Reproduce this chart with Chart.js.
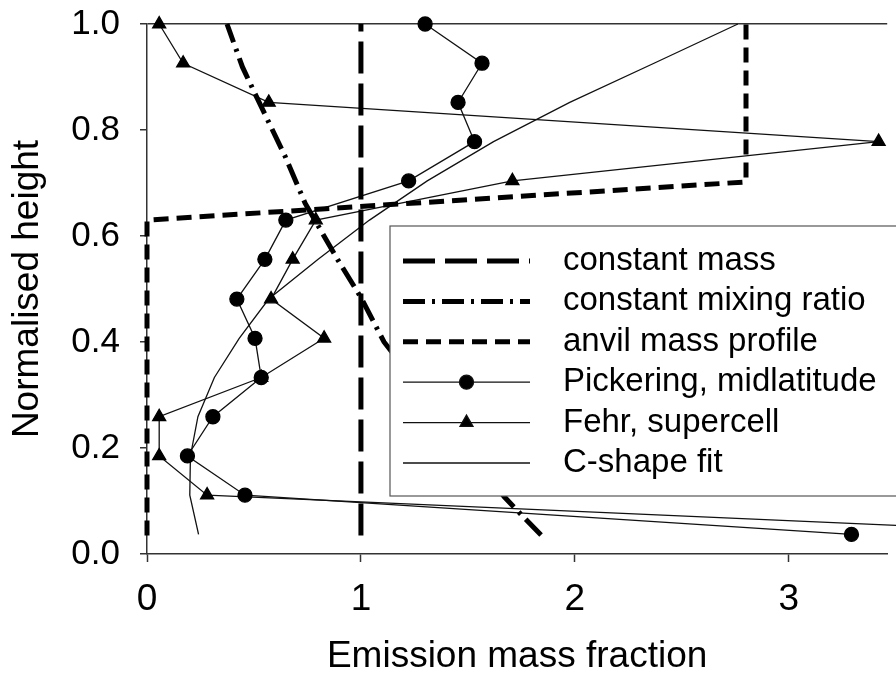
<!DOCTYPE html>
<html>
<head>
<meta charset="utf-8">
<script src="https://cdn.jsdelivr.net/npm/chart.js@4.4.1/dist/chart.umd.min.js"></script>
<style>
  html, body { margin: 0; padding: 0; background: #fff; }
  #wrap { width: 896px; height: 679px; }
</style>
</head>
<body>
<div id="wrap"><canvas id="chart" width="896" height="679"></canvas></div>
<script>
  // profile levels (normalised height) shared by the measured profiles
  const levels = [0.037, 0.111, 0.185, 0.259, 0.333, 0.407, 0.481, 0.556, 0.630, 0.704, 0.778, 0.852, 0.926, 1.0];
  const pickeringX = [3.293, 0.458, 0.189, 0.308, 0.534, 0.505, 0.420, 0.551, 0.649, 1.223, 1.531, 1.454, 1.566, 1.300];
  const fehrX = [4.46, 0.281, 0.057, 0.057, 0.534, 0.828, 0.580, 0.681, 0.789, 1.708, 3.42, 0.569, 0.169, 0.057];
  const cShapeX = [0.241, 0.200, 0.203, 0.238, 0.315, 0.431, 0.569, 0.800, 1.040, 1.310, 1.620, 1.976, 2.370, 2.762];

  const constMassX = [1, 1];
  const constMassY = [0.035, 1.0];
  const mixingX = [1.842, 1.714, 1.670, 1.108, 1.000, 0.892, 0.739, 0.646, 0.515, 0.446, 0.374];
  const mixingY = [0.036, 0.089, 0.108, 0.400, 0.484, 0.555, 0.662, 0.750, 0.860, 0.919, 1.0];
  const anvilX = [0, 0, 2.8, 2.8];
  const anvilY = [0.035, 0.630, 0.702, 1.0];

  const xTicks = [0, 1, 2, 3];
  const yTicks = [0, 0.2, 0.4, 0.6, 0.8, 1.0];

  const fontFamily = "'Liberation Sans', Arial, sans-serif";

  const pairs = (xs, ys) => xs.map((x, i) => ({ x: x, y: ys[i] }));

  const boxLegend = {
    id: 'boxLegend',
    afterDatasetsDraw(chart) {
      const { ctx, chartArea } = chart;
      const left = chartArea.left + 243;
      const top = chartArea.top + 202;
      ctx.save();
      ctx.fillStyle = '#fff';
      ctx.strokeStyle = '#555';
      ctx.lineWidth = 1.2;
      ctx.fillRect(left, top, 540, 270);
      ctx.strokeRect(left, top, 540, 270);
      chart.data.datasets.forEach((ds, i) => {
        const y = top + 35 + i * 40.4;
        const x0 = left + 13;
        const x1 = left + 140;
        ctx.strokeStyle = ds.borderColor;
        ctx.lineWidth = ds.borderWidth;
        ctx.lineCap = 'butt';
        ctx.setLineDash(ds.borderDash || []);
        ctx.beginPath();
        ctx.moveTo(x0, y);
        ctx.lineTo(x1, y);
        ctx.stroke();
        ctx.setLineDash([]);
        if (ds.pointRadius > 0) {
          ctx.fillStyle = '#000';
          Chart.helpers.drawPoint(ctx, { pointStyle: ds.pointStyle, radius: ds.pointRadius, rotation: 0, borderWidth: 1 }, (x0 + x1) / 2, y);
        }
        ctx.fillStyle = '#000';
        ctx.font = '33px ' + fontFamily;
        ctx.textAlign = 'left';
        ctx.textBaseline = 'middle';
        ctx.fillText(ds.label, left + 173, y);
      });
      ctx.restore();
    }
  };

  const thin = { borderColor: '#111', borderWidth: 1.3, showLine: true, clip: false };

  new Chart(document.getElementById('chart'), {
    type: 'scatter',
    data: {
      datasets: [
        { label: 'constant mass', data: pairs(constMassX, constMassY), borderColor: '#000', borderWidth: 5, borderDash: [32, 10], pointRadius: 0, showLine: true, clip: false },
        { label: 'constant mixing ratio', data: pairs(mixingX, mixingY), borderColor: '#000', borderWidth: 5, borderDash: [22, 7, 3, 7], pointRadius: 0, showLine: true, clip: false },
        { label: 'anvil mass profile', data: pairs(anvilX, anvilY), borderColor: '#000', borderWidth: 5, borderDash: [15, 8], pointRadius: 0, showLine: true, clip: false },
        Object.assign({ label: 'Pickering, midlatitude', data: pairs(pickeringX, levels), pointStyle: 'circle', pointRadius: 7, backgroundColor: '#000', pointBorderColor: '#000' }, thin),
        Object.assign({ label: 'Fehr, supercell', data: pairs(fehrX, levels), pointStyle: 'triangle', pointRadius: 7.5, backgroundColor: '#000', pointBorderColor: '#000' }, thin),
        Object.assign({ label: 'C-shape fit', data: pairs(cShapeX, levels), pointRadius: 0 }, thin)
      ]
    },
    options: {
      responsive: false,
      animation: false,
      layout: { padding: { left: 0, right: 0, top: 24, bottom: 0 } },
      plugins: { legend: { display: false }, tooltip: { enabled: false } },
      scales: {
        x: {
          type: 'linear',
          min: 0,
          max: 3.46,
          afterFit: (scale) => { scale.height = 125; scale.paddingLeft = 0; scale.paddingRight = 0; },
          afterBuildTicks: (scale) => { scale.ticks = xTicks.map(v => ({ value: v })); },
          ticks: { color: '#000', font: { family: fontFamily, size: 37 }, padding: 16, maxRotation: 0 },
          grid: { drawOnChartArea: false, tickLength: 8, tickColor: '#333', tickWidth: 1.5 },
          border: { color: '#333', width: 1.5 },
          title: { display: true, text: 'Emission mass fraction', color: '#000', font: { family: fontFamily, size: 37 }, padding: 0 }
        },
        y: {
          type: 'linear',
          min: 0,
          max: 1.0,
          afterFit: (scale) => { scale.width = 147; scale.paddingTop = 0; scale.paddingBottom = 0; },
          afterBuildTicks: (scale) => { scale.ticks = yTicks.map(v => ({ value: v })); },
          ticks: { color: '#000', font: { family: fontFamily, size: 35 }, padding: 20, callback: (v) => v.toFixed(1) },
          grid: {
            drawOnChartArea: true,
            color: (c) => (c.tick && c.tick.value === 1 ? '#333' : 'rgba(0,0,0,0)'),
            lineWidth: 1.5,
            tickLength: 7,
            tickColor: '#333',
            tickWidth: 1.5
          },
          border: { color: '#333', width: 1.5 },
          title: { display: true, text: 'Normalised height', color: '#000', font: { family: fontFamily, size: 37 }, padding: { top: 6, bottom: 0 } }
        }
      }
    },
    plugins: [boxLegend]
  });
</script>
</body>
</html>
